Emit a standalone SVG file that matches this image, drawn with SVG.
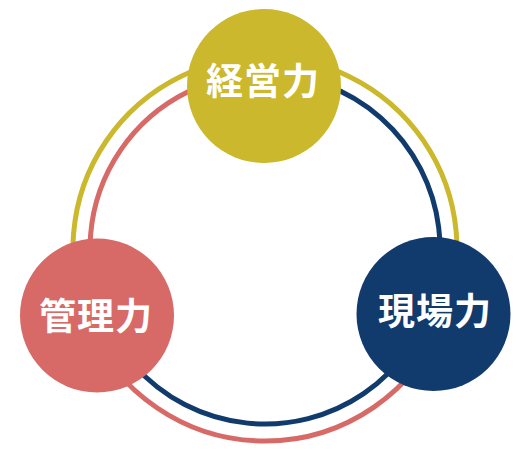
<svg xmlns="http://www.w3.org/2000/svg" width="521" height="470" viewBox="0 0 521 470">
<style>
.ring{fill:none;stroke-width:5}
.gold{fill:#CBB82C}
.red{fill:#D76A67}
.navy{fill:#113A6D}
.lbl{fill:#FFFFFF;font-family:"Noto Sans CJK JP","Noto Sans CJK SC",sans-serif;font-size:37px;font-weight:bold;text-anchor:middle;letter-spacing:1px}
</style>
<rect width="521" height="470" fill="#FFFFFF"/>
<g id="connectors">
<path class="ring" stroke="#CBB82C" d="M86.2 319.1 A192 192 0 1 1 444 318.4"/>
<path class="ring" stroke="#D76A67" d="M444 318.4 A192 192 0 0 1 86.2 319.1"/>
<path class="ring" stroke="#D76A67" d="M102.1 312.9 A175 175 0 0 1 265 74"/>
<path class="ring" stroke="#113A6D" d="M265 74 A175 175 0 1 1 102.1 312.9"/>
</g>
<g id="keiei">
<circle class="gold" cx="264" cy="86" r="77"/>
<text class="lbl" x="263" y="95">経営力</text>
</g>
<g id="kanri">
<circle class="red" cx="97" cy="315.5" r="77"/>
<text class="lbl" x="96" y="330">管理力</text>
</g>
<g id="genba">
<circle class="navy" cx="433.5" cy="314" r="77"/>
<text class="lbl" x="435" y="324.5">現場力</text>
</g>
</svg>
